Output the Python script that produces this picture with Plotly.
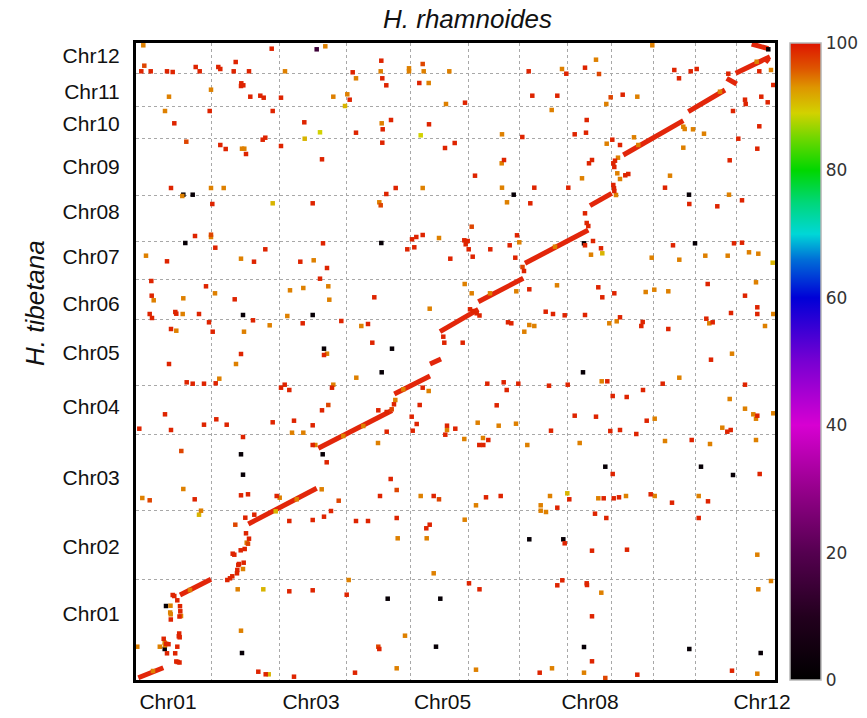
import numpy as np
import plotly.graph_objects as go

# ---------------- data ----------------
chr_names = [f"Chr{i:02d}" for i in range(1, 13)]
# chromosome lengths (Mb) of H. rhamnoides (x) and H. tibetana (y)
chr_len_x = [75, 68, 67, 64, 58, 51, 48, 44, 42, 42, 41, 39]
chr_len_y = [101, 69, 76, 49, 66, 40, 38, 46, 57, 32, 33, 30]

x_tick_text = ["Chr01", "Chr03", "Chr05", "Chr08", "Chr12"]
x_tick_pos = [32, 175, 306.5, 454, 626]
y_tick_text = chr_names
y_tick_pos = [66.7, 133.3, 202.7, 273, 327.3, 376.7, 423.3, 468.3, 513.3, 556.7, 588.3, 624.3]

# collinear blocks (start, end) in genome coordinates (Mb)
block_start = [(2.3, 2.3), (44, 85), (112.3, 156), (182.3, 231.7), (258.3, 286), (294, 316),
               (304, 348.3), (342.3, 378.3), (389, 416.7), (454, 474.3), (487.3, 525),
               (552.3, 568.3), (590.7, 601.7), (599.7, 606.7), (615.7, 636), (629, 621.3)]
block_end = [(27.3, 12.3), (75, 100.7), (180.7, 191.7), (256, 269.5), (294, 304), (305, 321),
             (342.3, 370.7), (387.3, 401.7), (452.3, 450), (475.7, 486.7), (547.3, 559.3),
             (589, 590), (600.7, 596), (634, 623.3), (632.3, 631.3), (633, 618)]

# scattered hits grouped by identity (%)
pts_99 = [(135.7,631.3),(5.3,608.7),(14.7,608.7),(31,608.7),(36.7,608),(59.7,613),(63.7,608.7),(82.3,613),(84.3,611),
    (97.7,608.7),(99.7,618),(113,608.7),(216.7,607.7),(245.3,619.3),(246.3,601.7),(250.3,594.7),(283.3,597),(105.3,596.7),
    (105,594),(107.3,594.7),(114.3,583.3),(124.3,584.3),(127.7,582.3),(145,582.3),(213.7,580.3),(329,577.3),(73.7,569),
    (136.7,569),(38.3,556.7),(168.3,557.7),(255,560),(246.7,550.7),(293,555.7),(220,547.3),(84.3,535),(89.7,531),(110,526),
    (126.7,540.3),(129.3,542.3),(145,534),(186,520.7),(246.3,537.3),(309,532),(318.7,537),(339,504.3),(35,492),(76.3,476),
    (176.7,476.7),(250.3,486),(259.7,492),(59,444),(79.3,432.3),(129.3,430.7),(187,436.7),(276,440.7),(280.3,443),
    (286.7,445),(271.3,430.7),(278.3,432.7),(328.3,439.7),(331.7,439),(329.7,435.7),(332.7,430.7),(336.7,423.3),
    (314.3,421.3),(31,418.7),(118,418.3),(164.3,418.3),(191,412),(184,401.3),(15.3,399),(70,393.7),(98.7,380.7),
    (238.3,382.7),(15.7,384.3),(13.7,366),(16,362),(39.3,368),(40.3,366.3),(63,366),(73,357.7),(76.7,348.3),(117,359.7),
    (166.7,356.7),(205.3,359),(232,356),(236.3,337.3),(35,351),(188,325),(105,326),(326.7,337.3),
    (392.7,608.7),(430.3,606.3),(449,612.3),(538.3,610),(543,601.7),(554.7,608.7),(560.7,611),(592.3,606.3),(623.3,608.7),
    (637.3,595),(396.3,584.3),(421.3,584.3),(486.7,585.3),(450.7,560),(386.3,543),(438.7,545.7),(450,547.3),(476.3,540.3),
    (484,535),(602.3,541.3),(621.3,531.3),(623.3,553.7),(609,580.3),(609.7,576),(625.3,583.3),(631.7,577.7),(597,569),
    (593.7,519.7),(368,520),(394.3,476.7),(398.3,492.3),(432.3,492.3),(453,516.7),(456,520),(529,492.3),(553.3,476),
    (581.3,473.7),(606,479.7),(381,444.7),(373.7,434.7),(354.3,430.7),(379.3,422.3),(449,434.7),(457,439),(465,431.7),
    (537,434.7),(598,436.7),(606,437.3),(609,384.3),(621.3,372.7),(621.3,366),(595,367),(575,320.3),(571.7,396),
    (570.3,361.3),(576.7,357.7),(532.3,351),(484,362.7),(505.3,354),(506.7,358),(478.3,386.7),(462.3,392.7),(466.3,382.7),
    (449,365),(428.7,364.7),(409.7,368.3),(417,366),(393.3,390.7),(372,357.7),(375.3,356.7),(449,466.7),(450.7,457),
    (452.3,454),(477.3,495),(478,491.7),(478.3,489),(489.3,504.7),(492.3,506),(477.3,516.7),(478.3,513),(479,519.3),
    (33,316),(50.7,297.7),(56.7,296.3),(68,296.3),(79.7,296.7),(29,265.7),(68,255.3),(80.3,260.7),(90.7,255.3),(3.3,251.3),
    (35,250),(58.7,180.7),(105,184.7),(112,185.7),(107,243),(136.7,257.7),(158,259.3),(176.7,254.7),(145,292.3),
    (148.7,295.3),(153.3,290),(186,269.7),(196,292.3),(242.3,269.7),(250.7,248.3),(254.7,201),(244,184),(283.7,275),
    (286.7,292.3),(275.7,263.3),(280.7,256),(276.7,249.3),(311,254.3),(319.3,251.3),(309.3,245.3),(343.3,235),(297.7,184),
    (293.7,155.3),(290.3,151.7),(260.7,162),(232,159),(220,159),(176.7,160),(188,163.3),(195,169),(153.3,159),(140.7,184),
    (190.7,217.7),(176.7,235),(153.3,88.7),(176.7,89.7),(210.7,85.3),(333,96.7),(343.5,90.7),(243.3,31),(219,7.3),
    (122.3,8.3),(129.7,5.7),(158,3.3),
    (351.3,296.3),(367.7,297.7),(370.7,290),(382.3,296.3),(413,294.3),(431.7,295.3),(471.3,298.7),(507,290),(526.7,296.3),
    (609,295.3),(360.7,274.7),(415,249.3),(438.7,264.3),(460,263.3),(476.7,284),(490.7,283),(510.7,259.3),(474.3,249),
    (484,250),(500.3,246),(621.3,264.3),(591.3,248.3),(594.7,250),(347.3,235),(352.3,240),(555.7,240),(476.7,206),
    (623.7,206),(350,182.7),(364.7,184),(421.3,172.3),(433.3,180.7),(467.7,181.7),(477.7,181.7),(483,182.7),(459,166.3),
    (470.3,162),(514.7,185.7),(536,177.3),(572,178.7),(562.7,162),(428.7,136.7),(456,129.3),(491,130.3),(421.3,94.7),
    (426.3,99.7),(450.7,96.7),(451,95),(456,63.7),(456,18.7),(403.7,7.3),(501.3,5.3),(596,9.3),
    (36.7,85),(38.3,84),(41.3,79.7),(44,73.8),(44.3,68.7),(43.5,63.5),(34.8,60.5),(43.2,46.5),(42.8,43.7),(43.7,42.7),
    (27.7,41.2),(30.2,36.2),(32.5,35.8),(41.3,33.3),(31,26.7),(39.2,26.7),(40.3,18.5),(43.5,17.5),(41.7,18),
    (109.3,162.3),(118.3,165.3),(110,146.7),(113,141.3),(108.7,131),(104.7,129.7),(96.7,126.3),(98.3,125.3),(107.7,117.3),
    (102.3,115),(101.3,110),(101,106.7),(96.3,103.7),(94,101.7),(91.3,100),(103,116),
    (250.7,268),(258,275.7),(334,370.7),(337.3,369),(340.7,366.7),(343.5,364.5),(307.3,343.3),(308.3,337.3),(388,409)]

pts_97 = [(8.3,614.3),(286.7,616),(50.3,538.3),(244.7,474.7),(75,445.3),(335.7,453.3),(463,606),(474.7,582.7),(45.3,229),
    (13.7,179.7),(192.3,275),(260.7,190),(303,180.7),(202.7,179.3),(242.3,33.3),(469.3,2),(99.3,155.3),(112,136.3),
    (255.7,270.7),(386.5,413)]

pts_94 = [(7.3,634.7),(189.3,633.7),(149,608.7),(220,601.7),(244.7,608.7),(273,611.7),(273,608.7),(287.7,608.7),(313.3,608.7),
    (292.7,597),(75,590.3),(33,583.3),(197.3,583.3),(211.3,585.7),(310,576),(29,569),(245.7,556.7),(106,531.3),(108.3,531.3),
    (75,492),(87.7,492),(46.3,484),(286.7,492),(243.3,477.7),(75,443),(303,442),(10,424.3),(105,421.3),(177.7,419.7),
    (79,386.7),(154,389.7),(167.3,392),(192.3,393.7),(193.3,380.3),(17.7,379.7),(47.3,381.7),(328.7,396),(335.7,386.7),
    (293.7,371.3),(46.7,366),(151.3,364),(108,348.3),(133.7,354.7),(225.3,354),(40.3,349.3),(191,326.3),
    (516.3,634.7),(460,620.3),(426,611),(635,610),(501.3,583.3),(470.3,576),(415.7,570),(366,545.7),(470.7,536.3),
    (498,542.7),(547.3,532.3),(557,550.7),(568,546.3),(365.7,516.7),(366,492.3),(371,477.7),(446,501.7),(534,504.3),
    (593,485.3),(383.3,437.7),(455,425.3),(515.7,422.3),(543.3,420.3),(569.3,424.3),(591.7,424.3),(613,427.7),(622.3,426.3),
    (620,397.7),(637.3,366),(629,354),(596,326.3),(573.3,356.7),(509.7,388),(518.3,390.3),(532.3,388.7),(480.7,358.7),
    (473.3,356.7),(421,394.7),(380.3,388.7),(388.3,348.3),(393.3,355),(398.3,354),(480,485),(481.3,506.7),(484,501),
    (482,522.3),(547.3,553.3),(548.7,551),
    (100,316),(83.3,301.3),(47.3,191),(6.3,182),(65,169.3),(156,247.3),(167.3,247.3),(197.3,295.3),(220.3,302.3),(242,237),
    (292.7,289),(311,250),(328.3,241),(341.7,257.3),(284.7,184),(340,174.7),(328.7,160.3),(290.7,141.7),(261.7,141.7),
    (143.7,182.3),(185.7,190.7),(179.3,235),(101.7,90.7),(212.7,100),(297.7,106.7),(269,44.3),(260.7,11.7),(105,49.3),
    (1.3,33.3),
    (543.3,302.3),(465.7,298.7),(362.7,254.3),(380,256.3),(518.7,261.3),(593.7,281),(609,271.3),(617.3,265.7),(620,261.3),
    (637.3,266.7),(586.3,252.3),(347,242),(391.3,235),(443.7,237),(529,239),(574,236),(620,240),(404.7,174.7),(404.7,169.3),
    (410,168),(414,184),(462.3,181.7),(490,184),(518.7,184),(562.7,184),(621.3,125.3),(465.3,87.3),(622.3,90.7),(635,99),
    (340,10.3),(416,11.7),(448,7.3),(621.3,6.3),
    (34.5,74.3),(34.2,67.5),(34.7,65.7),(45,64),(28.7,37.3),(29,34.7),(23.8,33.3),(110.7,137.3),(107,111),
    (259.3,280),(207.3,244),(227.3,254),(267.3,290.7),(419,433.3),(502.3,535),(354,386.7),(584,588.3),(620.7,618.3),
    (54,90),(17,9),(160.7,180.7)]

pts_91 = [(209,574),(168.7,541.3),(136.7,476.7),(466.3,426.7),(636.7,417.3),(63,165.3),(127.3,90.7),(132.7,5.7),
    (431.3,186.7),(139.7,168.7)]

pts_89 = [(184,547.7),(284.7,544.7)]

pts_15 = [(180.7,630.7)]

pts_2 = [(47.3,485.3),(56.7,485.3),(49.3,437),(245.3,437),(107,365),(176.7,365),(188,331.3),(256,331.3),(377.7,485.3),
    (553,485.3),(448,436.7),(559,436.7),(105,225.7),(107,205.3),(245.7,307.7),(186.7,225.7),(251.7,81.3),(304.3,81.3),
    (300,33.3),(106,27),(447,307.7),(469.3,213.3),(565,213.3),(597,205),(393.3,140.7),(427.3,140.7),(448,33),(553.3,31),
    (624.7,27),(30,74),(28.7,31),(632.3,630.7)]

# ---------------- build ----------------
groups = [(2, pts_2), (15, pts_15), (89, pts_89), (91, pts_91), (94, pts_94), (97, pts_97), (99, pts_99)]
px, py, pid = [], [], []
for ident, pts in groups:
    for (a, b) in pts:
        px.append(a); py.append(b); pid.append(ident)

colorscale = [
    [0.00, "rgb(0,0,0)"], [0.10, "rgb(35,0,30)"], [0.20, "rgb(85,0,80)"], [0.30, "rgb(150,0,140)"],
    [0.40, "rgb(215,0,210)"], [0.50, "rgb(120,0,210)"], [0.60, "rgb(0,0,215)"], [0.66, "rgb(0,110,215)"],
    [0.70, "rgb(0,215,215)"], [0.75, "rgb(0,215,120)"], [0.80, "rgb(0,215,0)"], [0.85, "rgb(110,215,0)"],
    [0.89, "rgb(210,210,0)"], [0.93, "rgb(222,150,0)"], [0.96, "rgb(222,85,0)"], [1.00, "rgb(222,20,0)"]]

x_bounds = list(np.cumsum(chr_len_x)[:-1])
y_bounds = list(np.cumsum(chr_len_y)[:-1])
x_total = sum(chr_len_x)
y_total = sum(chr_len_y)

fig = go.Figure()
for (s, e) in zip(block_start, block_end):
    fig.add_trace(go.Scatter(x=[s[0], e[0]], y=[s[1], e[1]], mode="lines",
                             line=dict(color="rgb(226,38,10)", width=5, dash="solid"),
                             hoverinfo="skip", showlegend=False))
fig.add_trace(go.Scatter(
    x=px, y=py, mode="markers", showlegend=False,
    marker=dict(symbol="square", size=4.5, color=pid, cmin=0, cmax=100, colorscale=colorscale,
                line=dict(width=0),
                colorbar=dict(x=1 + 15 / 639, xanchor="left", xpad=0, ypad=0, y=0.5, yanchor="middle",
                              len=1, thickness=31, outlinecolor="#b5b5b5", outlinewidth=1.5,
                              tickvals=[0, 20, 40, 60, 80, 100], ticks="",
                              tickfont=dict(family="DejaVu Sans", size=17, color="#333333"))),
))

font_main = "Liberation Sans, Arial, sans-serif"
grid = dict(showgrid=True, gridcolor="#a8a8a8", griddash="dot", gridwidth=1, ticks="")
fig.update_xaxes(range=[0, x_total], tickmode="array", tickvals=x_tick_pos, ticktext=x_tick_text,
                 ticks="", showgrid=False, zeroline=False, showline=True, mirror=True, automargin=False,
                 linecolor="black", linewidth=3, tickfont=dict(family=font_main, size=21, color="#111"),
                 ticklabelstandoff=1,
                 minor=dict(tickmode="array", tickvals=x_bounds, **grid))
fig.update_yaxes(range=[0, y_total], tickmode="array", tickvals=y_tick_pos, ticktext=y_tick_text,
                 ticks="", showgrid=False, zeroline=False, showline=True, mirror=True, automargin=False,
                 linecolor="black", linewidth=3, tickfont=dict(family=font_main, size=21, color="#111"),
                 ticklabelstandoff=9,
                 minor=dict(tickmode="array", tickvals=y_bounds, **grid))

fig.add_annotation(text="<i>H. rhamnoides</i>", xref="paper", yref="paper", x=(467 - 136) / 639,
                   y=(680 - 19) / 637, xanchor="center", yanchor="middle", showarrow=False,
                   font=dict(family=font_main, size=26, color="#111"))
fig.add_annotation(text="<i>H. tibetana</i>", xref="paper", yref="paper", x=(35 - 136) / 639,
                   y=(680 - 303) / 637, xanchor="center", yanchor="middle", showarrow=False, textangle=-90,
                   font=dict(family=font_main, size=26, color="#111"))

fig.update_layout(width=867, height=718, margin=dict(l=136, r=92, t=43, b=38, autoexpand=False),
                  paper_bgcolor="white", plot_bgcolor="white", font=dict(family=font_main))

fig.write_html("out.html")
